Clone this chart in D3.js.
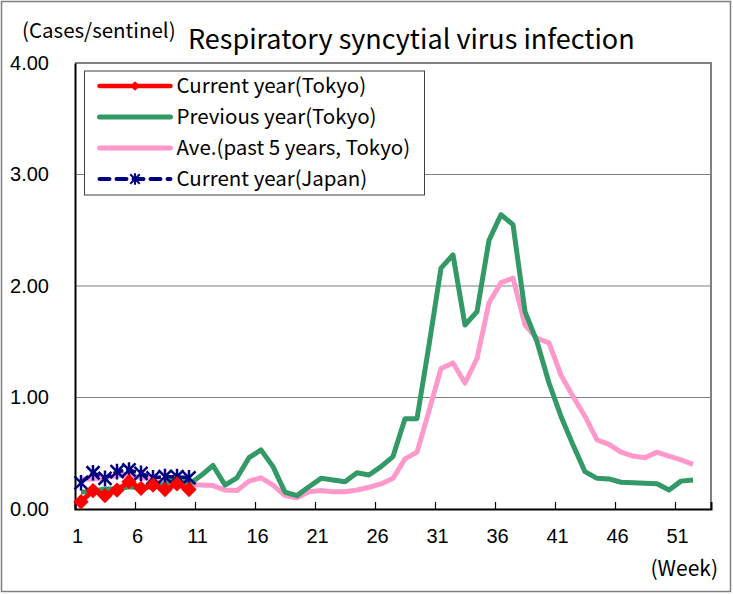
<!DOCTYPE html>
<html>
<head>
<meta charset="utf-8">
<script src="https://cdn.jsdelivr.net/npm/d3@7"></script>
<style>
body { margin: 0; background: #fff; }
svg { display: block; font-family: "Noto Sans CJK JP", "Noto Sans", sans-serif; }
</style>
</head>
<body>
<svg id="chart"></svg>
<script>
// weekly sentinel data (cases/sentinel)
const weekCount = 53;
const tickWeeks = [1, 6, 11, 16, 21, 26, 31, 36, 41, 46, 51];
const yTicks = [0, 1, 2, 3, 4];

const currentTokyo = [0.065, 0.165, 0.12, 0.17, 0.245, 0.185, 0.215, 0.175, 0.225, 0.175];
const currentJapan = [0.235, 0.325, 0.275, 0.335, 0.35, 0.32, 0.28, 0.29, 0.29, 0.28];
const previousTokyo = [
    0.15, 0.16, 0.18, 0.18, 0.2, 0.19, 0.2, 0.22, 0.29, 0.22,
    0.3, 0.39, 0.215, 0.28, 0.46, 0.53, 0.38, 0.15, 0.12, 0.2,
    0.275, 0.26, 0.245, 0.325, 0.305, 0.38, 0.47, 0.81, 0.81, 1.47,
    2.16, 2.28, 1.65, 1.77, 2.41, 2.64, 2.55, 1.77, 1.5, 1.13,
    0.83, 0.575, 0.335, 0.275, 0.27, 0.24, 0.235, 0.23, 0.227, 0.17,
    0.25, 0.26
];
const averageTokyo = [
    0.27, 0.27, 0.28, 0.3, 0.31, 0.28, 0.27, 0.25, 0.24, 0.22,
    0.215, 0.21, 0.17, 0.165, 0.25, 0.28, 0.215, 0.12, 0.1, 0.155,
    0.165, 0.155, 0.155, 0.17, 0.195, 0.225, 0.275, 0.45, 0.51, 0.88,
    1.26, 1.31, 1.13, 1.35, 1.85, 2.03, 2.07, 1.65, 1.53, 1.49,
    1.2, 1.01, 0.83, 0.62, 0.58, 0.51, 0.475, 0.46, 0.51, 0.475,
    0.44, 0.4
];
const legendNames = ["Current year(Tokyo)", "Previous year(Tokyo)", "Ave.(past 5 years, Tokyo)", "Current year(Japan)"];

var svgWidth = 733,
    svgHeight = 594;
var margin = { top: 63, right: 22, bottom: 85, left: 75 };
var width = svgWidth - margin.left - margin.right,
    height = svgHeight - margin.top - margin.bottom;

var svg = d3.select('#chart')
    .attr('width', svgWidth)
    .attr('height', svgHeight);

// outer chart border
svg.append('rect')
    .attr('x', 1.5).attr('y', 1.5)
    .attr('width', svgWidth - 4).attr('height', svgHeight - 4)
    .attr('fill', '#fff')
    .attr('stroke', '#7f7f7f')
    .attr('stroke-width', 1.5);

var g = svg.append('g')
    .attr('transform', "translate(" + margin.left + "," + margin.top + ")");

// x: category boundaries 0..53, a week sits in the middle of its slot
var x = d3.scaleLinear()
    .domain([0, weekCount])
    .range([0, width]);
var xWeek = w => x(w - 0.5);
var y = d3.scaleLinear()
    .domain([0, 4])
    .range([height, 0]);

// gridlines
g.append('g')
    .selectAll('line')
    .data(yTicks.filter(d => d > 0 && d < 4))
    .join('line')
    .attr('x1', 0).attr('x2', width)
    .attr('y1', d => y(d)).attr('y2', d => y(d))
    .attr('stroke', '#808080')
    .attr('stroke-width', 1.2);

// plot frame (top / right gray)
g.append('path')
    .attr('d', "M0," + y(4) + "H" + width + "V" + height)
    .attr('fill', 'none')
    .attr('stroke', '#808080')
    .attr('stroke-width', 2);

// y axis
var yAxis = g.append('g')
    .call(d3.axisLeft(y).tickValues(yTicks).tickSize(0).tickPadding(26).tickFormat(d3.format('.2f')));
yAxis.select('.domain').attr('stroke', '#000').attr('stroke-width', 2);
yAxis.selectAll('text').attr('font-size', 20).attr('fill', '#000');

// x axis, ticks pointing into the plot
var xAxis = g.append('g')
    .attr('transform', "translate(0," + height + ")")
    .call(d3.axisBottom(x).tickValues(tickWeeks.map(w => w - 1)).tickSize(-7).tickPadding(20).tickFormat(d => d + 1));
xAxis.select('.domain').attr('stroke', '#000').attr('stroke-width', 2);
xAxis.selectAll('.tick line').attr('stroke', '#000').attr('stroke-width', 1.2);
xAxis.selectAll('text').attr('font-size', 20).attr('fill', '#000').attr('dx', 2);

var line = d3.line()
    .x((d, i) => xWeek(i + 1))
    .y(d => y(d));

// average of past 5 years
g.append('path')
    .datum(averageTokyo)
    .attr('fill', 'none')
    .attr('stroke', '#ff99cc')
    .attr('stroke-width', 5)
    .attr('stroke-linejoin', 'round')
    .attr('d', line);

// previous year
g.append('path')
    .datum(previousTokyo)
    .attr('fill', 'none')
    .attr('stroke', '#339966')
    .attr('stroke-width', 5)
    .attr('stroke-linejoin', 'round')
    .attr('d', line);

// Excel-like star marker: X with a vertical bar
var starSymbol = {
    draw: function (ctx, size) {
        var r = Math.sqrt(size) / 2;
        ctx.moveTo(-r, -r); ctx.lineTo(r, r);
        ctx.moveTo(-r, r); ctx.lineTo(r, -r);
        ctx.moveTo(0, -r * 1.2); ctx.lineTo(0, r * 1.2);
    }
};

// current year Japan
g.append('path')
    .datum(currentJapan)
    .attr('fill', 'none')
    .attr('stroke', '#000080')
    .attr('stroke-width', 3.5)
    .attr('stroke-dasharray', '10,3')
    .attr('d', line);
g.append('g')
    .selectAll('path')
    .data(currentJapan)
    .join('path')
    .attr('transform', (d, i) => "translate(" + xWeek(i + 1) + "," + y(d) + ")")
    .attr('d', d3.symbol(starSymbol, 170))
    .attr('fill', 'none')
    .attr('stroke', '#000080')
    .attr('stroke-width', 2.5);

// current year Tokyo
g.append('path')
    .datum(currentTokyo)
    .attr('fill', 'none')
    .attr('stroke', '#ff0000')
    .attr('stroke-width', 5)
    .attr('stroke-linejoin', 'round')
    .attr('d', line);
g.append('g')
    .selectAll('path')
    .data(currentTokyo)
    .join('path')
    .attr('transform', (d, i) => "translate(" + xWeek(i + 1) + "," + y(d) + ")")
    .attr('d', d3.symbol(d3.symbolDiamond2, 150))
    .attr('fill', '#ff0000');

// legend
var legend = g.append('g')
    .attr('transform', "translate(9.5,8)");
legend.append('rect')
    .attr('width', 340).attr('height', 124)
    .attr('fill', '#fff')
    .attr('stroke', '#404040')
    .attr('stroke-width', 1);
var legendStyles = [
    { color: '#ff0000', width: 4.5, dash: null, marker: 'diamond' },
    { color: '#339966', width: 5, dash: null, marker: null },
    { color: '#ff99cc', width: 5, dash: null, marker: null },
    { color: '#000080', width: 4, dash: '10,7', marker: 'star' }
];
var rows = legend.selectAll('.row')
    .data(legendNames)
    .join('g')
    .attr('class', 'row')
    .attr('transform', (d, i) => "translate(0," + (15 + i * 31) + ")");
rows.append('line')
    .attr('x1', 15).attr('x2', 86)
    .attr('stroke', (d, i) => legendStyles[i].color)
    .attr('stroke-width', (d, i) => legendStyles[i].width)
    .attr('stroke-linecap', 'round')
    .attr('stroke-dasharray', (d, i) => legendStyles[i].dash);
rows.filter((d, i) => legendStyles[i].marker === 'diamond')
    .append('path')
    .attr('transform', "translate(50.5,0)")
    .attr('d', d3.symbol(d3.symbolDiamond2, 60))
    .attr('fill', '#ff0000');
rows.filter((d, i) => legendStyles[i].marker === 'star')
    .append('path')
    .attr('transform', "translate(50.5,0)")
    .attr('d', d3.symbol(starSymbol, 90))
    .attr('fill', 'none')
    .attr('stroke', '#000080')
    .attr('stroke-width', 2);
rows.append('text')
    .attr('x', 92)
    .attr('dy', '0.35em')
    .attr('font-size', 20.5)
    .attr('fill', '#000')
    .text(d => d);

// titles
svg.append('text')
    .attr('x', 188).attr('y', 49)
    .attr('font-size', 27)
    .attr('fill', '#000')
    .text("Respiratory syncytial virus infection");
svg.append('text')
    .attr('x', 22).attr('y', 38)
    .attr('font-size', 20.5)
    .attr('fill', '#000')
    .text("(Cases/sentinel)");
svg.append('text')
    .attr('x', 718).attr('y', 576)
    .attr('text-anchor', 'end')
    .attr('font-size', 21)
    .attr('fill', '#000')
    .text("(Week)");
</script>
</body>
</html>
